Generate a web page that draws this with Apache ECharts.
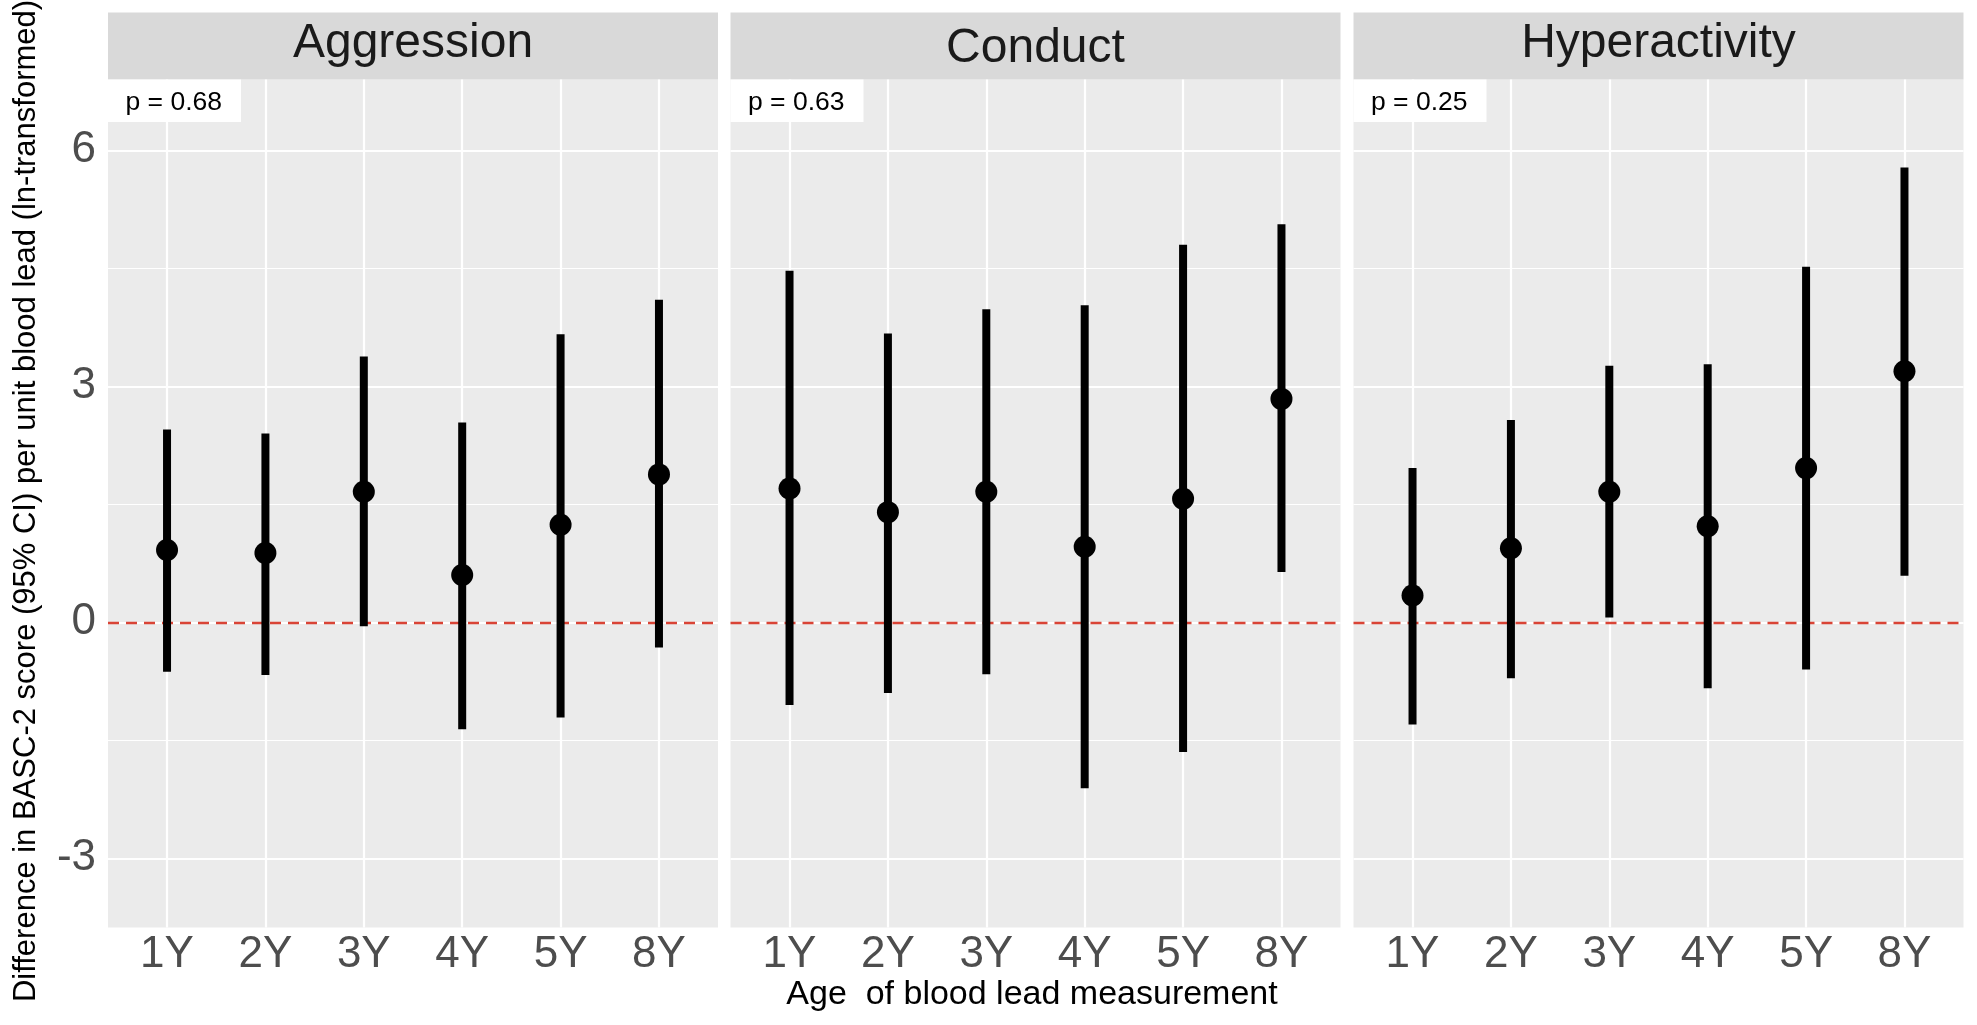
<!DOCTYPE html>
<html>
<head>
<meta charset="utf-8">
<script src="https://cdn.jsdelivr.net/npm/echarts@6/dist/echarts.min.js"></script>
<style>
html, body { margin: 0; padding: 0; background: #ffffff; }
#c { width: 1977px; height: 1025px; }
</style>
</head>
<body>
<div id="c"></div>
<script>
// ---------- data ----------
const categories = ['1Y', '2Y', '3Y', '4Y', '5Y', '8Y'];
const facets = ['Aggression', 'Conduct', 'Hyperactivity'];
const pLabels = ['p = 0.68', 'p = 0.63', 'p = 0.25'];
const yTicks = [-3, 0, 3, 6];
const yMinor = [-1.5, 1.5, 4.5];

const aggEst = [0.92, 0.88, 1.66, 0.60, 1.24, 1.88];
const aggLo  = [-0.63, -0.67, -0.05, -1.36, -1.21, -0.32];
const aggHi  = [2.45, 2.40, 3.38, 2.54, 3.66, 4.10];

const conEst = [1.70, 1.40, 1.66, 0.96, 1.57, 2.84];
const conLo  = [-1.05, -0.90, -0.66, -2.11, -1.65, 0.64];
const conHi  = [4.47, 3.67, 3.98, 4.03, 4.80, 5.06];

const hypEst = [0.34, 0.94, 1.66, 1.22, 1.96, 3.19];
const hypLo  = [-1.30, -0.71, 0.06, -0.84, -0.60, 0.59];
const hypHi  = [1.96, 2.57, 3.26, 3.28, 4.52, 5.78];

const estSets = [aggEst, conEst, hypEst];
const loSets = [aggLo, conLo, hypLo];
const hiSets = [aggHi, conHi, hypHi];

// ---------- layout ----------
const FONT = '"Liberation Sans", Arial, Helvetica, sans-serif';
const panelLefts = [108, 730.5, 1353.5];
const panelW = 610;
const panelTop = 79.5;
const panelBottomPx = 927.5;
const stripTop = 12.5;
const Y_MIN = -3.88, Y_MAX = 6.9;
const catIdx = categories.map((c, j) => j);

const grids = [], xAxes = [], yAxes = [], series = [], graphics = [];

facets.forEach((name, i) => {
  grids.push({
    left: panelLefts[i], top: panelTop, width: panelW,
    height: panelBottomPx - panelTop,
    show: true, backgroundColor: '#ebebeb', borderWidth: 0
  });
  xAxes.push({
    type: 'value', gridIndex: i, min: -0.6, max: 5.6,
    axisLine: { show: false },
    splitLine: { show: false },
    axisTick: { show: true, customValues: catIdx, length: 6, lineStyle: { color: '#333333', width: 2 } },
    axisLabel: {
      show: true, customValues: catIdx, margin: 5,
      formatter: v => categories[Math.round(v)] || '',
      fontSize: 44, fontFamily: FONT, color: '#4d4d4d'
    }
  });
  yAxes.push({
    type: 'value', gridIndex: i, min: Y_MIN, max: Y_MAX,
    axisLine: { show: false },
    splitLine: { show: false },
    axisTick: { show: i === 0, customValues: yTicks, length: 6, lineStyle: { color: '#333333', width: 2 } },
    axisLabel: {
      show: i === 0, customValues: yTicks, margin: 12,
      formatter: v => String(v),
      fontSize: 44, fontFamily: FONT, color: '#4d4d4d'
    }
  });

  // white grid lines
  series.push({
    type: 'line', xAxisIndex: i, yAxisIndex: i, data: [], silent: true,
    markLine: {
      silent: true, z: 1, animation: false, symbol: ['none', 'none'],
      label: { show: false },
      data: [
        ...yMinor.map(v => ({ yAxis: v, lineStyle: { color: '#ffffff', width: 1.1, type: 'solid' } })),
        ...yTicks.map(v => ({ yAxis: v, lineStyle: { color: '#ffffff', width: 2.2, type: 'solid' } })),
        ...catIdx.map(v => ({ xAxis: v, lineStyle: { color: '#ffffff', width: 2.2, type: 'solid' } }))
      ]
    }
  });
  // red dashed zero line
  series.push({
    type: 'line', xAxisIndex: i, yAxisIndex: i, data: [], silent: true,
    markLine: {
      silent: true, z: 2, animation: false, symbol: ['none', 'none'],
      label: { show: false },
      data: [{ yAxis: 0, lineStyle: { color: '#d94436', width: 2.3, type: [11, 7] } }]
    }
  });
  // confidence interval bars
  series.push({
    type: 'custom', xAxisIndex: i, yAxisIndex: i, z: 3, silent: true, animation: false,
    data: categories.map((c, j) => [j, loSets[i][j], hiSets[i][j]]),
    renderItem: (params, api) => {
      const a = api.coord([api.value(0), api.value(1)]);
      const b = api.coord([api.value(0), api.value(2)]);
      return {
        type: 'line',
        shape: { x1: a[0], y1: a[1], x2: b[0], y2: b[1] },
        style: { stroke: '#000000', lineWidth: 8, lineCap: 'butt' }
      };
    }
  });
  // point estimates
  series.push({
    type: 'scatter', xAxisIndex: i, yAxisIndex: i, z: 4, silent: true, animation: false,
    symbol: 'circle', symbolSize: 22,
    itemStyle: { color: '#000000', opacity: 1 },
    data: estSets[i].map((v, j) => [j, v])
  });

  // strip
  graphics.push({
    type: 'rect', z: 0,
    shape: { x: panelLefts[i], y: stripTop, width: panelW, height: panelTop - stripTop },
    style: { fill: '#d9d9d9' }
  });
  const hasDesc = /[gjpqy]/.test(name);
  graphics.push({
    type: 'text', z: 10,
    x: panelLefts[i] + panelW / 2, y: hasDesc ? 44 : 48.5,
    style: {
      text: name, fontSize: 48, fontFamily: FONT, fill: '#1a1a1a',
      align: 'center', verticalAlign: 'middle'
    }
  });
  // p-value label
  graphics.push({
    type: 'rect', z: 10,
    shape: { x: panelLefts[i], y: panelTop, width: 133, height: 42.5 },
    style: { fill: '#ffffff' }
  });
  graphics.push({
    type: 'text', z: 11,
    x: panelLefts[i] + 17.5, y: 103,
    style: {
      text: pLabels[i], fontSize: 26.5, fontFamily: FONT, fill: '#000000',
      align: 'left', verticalAlign: 'middle'
    }
  });
});

// axis titles
graphics.push({
  type: 'text', z: 10, x: 1032, y: 995,
  style: {
    text: 'Age  of blood lead measurement', fontSize: 34, fontFamily: FONT, fill: '#000000',
    align: 'center', verticalAlign: 'middle'
  }
});
graphics.push({
  type: 'text', z: 10, x: 26, y: 501, rotation: Math.PI / 2,
  style: {
    text: 'Difference in BASC-2 score (95% CI) per unit blood lead (ln-transformed)',
    fontSize: 31, fontFamily: FONT, fill: '#000000',
    align: 'center', verticalAlign: 'middle'
  }
});

const chart = echarts.init(document.getElementById('c'), null, { renderer: 'canvas', width: 1977, height: 1025 });
chart.setOption({
  backgroundColor: '#ffffff',
  animation: false,
  grid: grids,
  xAxis: xAxes,
  yAxis: yAxes,
  series: series,
  graphic: graphics
});
</script>
</body>
</html>
